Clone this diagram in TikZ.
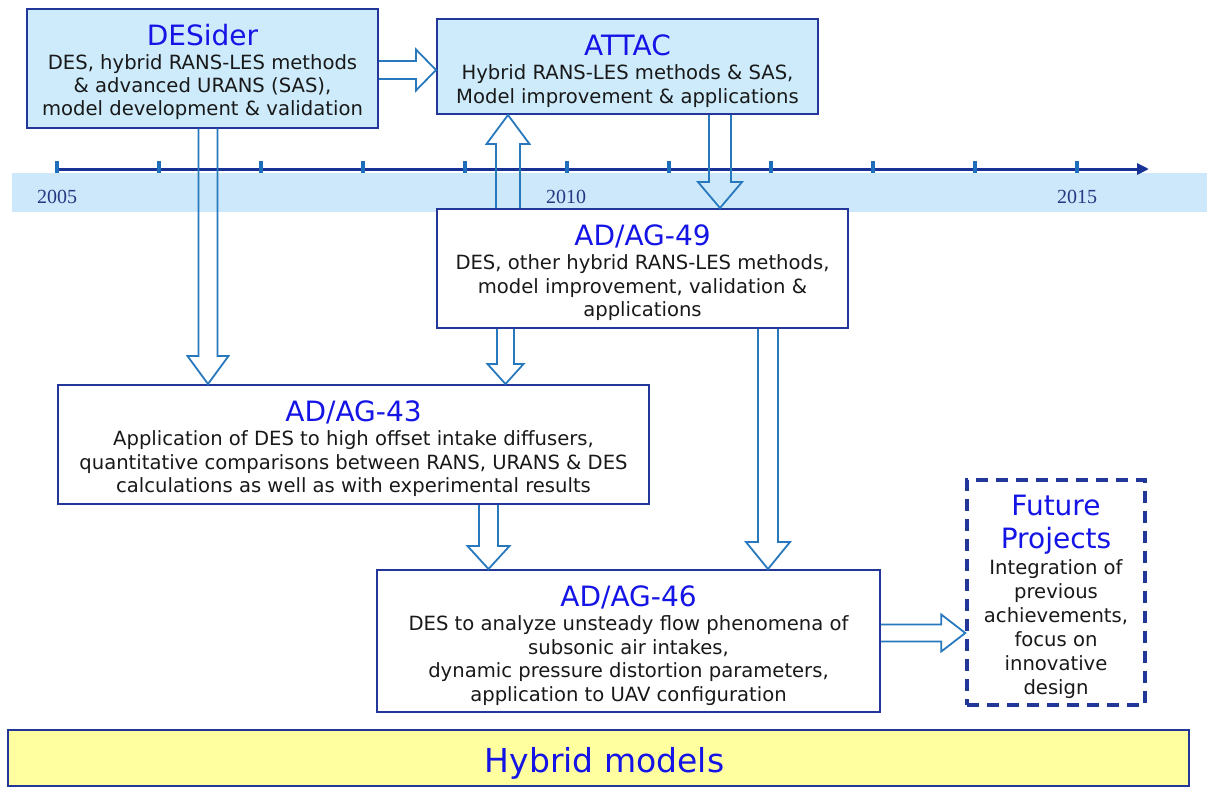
\documentclass[tikz,border=0pt]{standalone}
\usepackage{fontspec}
\setmainfont{DejaVu Sans}
\newfontfamily\bodyf{DejaVu Sans}
\newfontfamily\titlef{DejaVu Sans}
\newfontfamily\hybf{DejaVu Sans}
\newfontfamily\yearf{Liberation Serif}
\usetikzlibrary{arrows.meta,calc}
\definecolor{navy}{RGB}{35,55,155}
\definecolor{lightfill}{RGB}{205,235,251}
\definecolor{bandblue}{RGB}{204,232,250}
\definecolor{ttlblue}{RGB}{20,20,230}
\definecolor{bodytext}{RGB}{25,25,25}
\definecolor{arrowblue}{RGB}{40,120,190}
\definecolor{axisblue}{RGB}{25,50,150}
\definecolor{tickblue}{RGB}{30,110,190}
\definecolor{yearblue}{RGB}{40,55,130}
\definecolor{hybfill}{RGB}{255,255,160}
\newcommand\ttlplain[1]{{\titlef\fontsize{28}{30}\selectfont\color{ttlblue}#1}}
\newcommand\ttl[1]{\ttlplain{\rule{0pt}{30pt}#1}}
% vertical block arrows: #1 x, #2 from, #3 to, #4 half shaft, #5 half head, #6 head length
\newcommand\barrowD[6]{\draw[barrow] let \p1=(#2), \p2=(#3), \p3=(#1,0) in
  (\x3-#4,\y1) -- (\x3-#4,\y2+#6) -- (\x3-#5,\y2+#6) -- (\x3,\y2) -- (\x3+#5,\y2+#6) -- (\x3+#4,\y2+#6) -- (\x3+#4,\y1);}
\newcommand\barrowU[6]{\draw[barrow] let \p1=(#2), \p2=(#3), \p3=(#1,0) in
  (\x3-#4,\y1) -- (\x3-#4,\y2-#6) -- (\x3-#5,\y2-#6) -- (\x3,\y2) -- (\x3+#5,\y2-#6) -- (\x3+#4,\y2-#6) -- (\x3+#4,\y1);}
\newcommand\barrowR[6]{\draw[barrow] let \p1=(#2), \p2=(#3), \p3=(0,#1) in
  (\x1,\y3+#4) -- (\x2-#6,\y3+#4) -- (\x2-#6,\y3+#5) -- (\x2,\y3) -- (\x2-#6,\y3-#5) -- (\x2-#6,\y3-#4) -- (\x1,\y3-#4);}
\begin{document}
\begin{tikzpicture}[x=1pt,y=-1pt,
  pbox/.style={draw=navy, line width=2pt, inner sep=0pt, align=center,
    font=\bodyf\fontsize{19.6}{23.5}\selectfont, text=bodytext},
  lbbox/.style={pbox, fill=lightfill},
  wbox/.style={pbox, fill=white},
  dbox/.style={pbox, fill=white, line width=3.5pt, dash pattern=on 12pt off 8pt},
  hbox/.style={pbox, fill=hybfill},
  barrow/.style={draw=arrowblue, line width=1.8pt, line join=miter},
  axisline/.style={draw=axisblue, line width=3pt, -{Triangle[length=12pt,width=11pt]}},
  tickmark/.style={draw=tickblue, line width=4pt},
  year/.style={font=\yearf\fontsize{20}{24}\selectfont, text=yearblue, inner sep=0pt}]
\useasboundingbox (0,0) rectangle (1207,787);
% timeline
\fill[bandblue] (12,173) rectangle (1207,212);
\draw[axisline] (57,169) -- (1149,169);
\foreach \i in {0,...,10} \draw[tickmark] ({57+102*\i},161) -- ++(0,12);
\node[year] (y2005) at (57,197) {2005};
\node[year] (y2010) at (566,197) {2010};
\node[year] (y2015) at (1077,197) {2015};
% boxes
\node[lbbox, minimum width=351pt, minimum height=119pt] (desider) at (202.5,68)
  {\ttl{DESider}\\[0.5pt] DES, hybrid RANS-LES methods\\[-0.5pt] \& advanced URANS (SAS),\\[-0.5pt] model development \& validation};
\node[lbbox, minimum width=381pt, minimum height=95pt] (attac) at (627.5,66.5)
  {\ttl{ATTAC}\\[0.5pt] Hybrid RANS-LES methods \& SAS,\\ Model improvement \& applications};
\node[wbox, minimum width=411pt, minimum height=119pt] (ag49) at (642.5,268.5)
  {\ttl{AD/AG-49}\\[0.5pt] DES, other hybrid RANS-LES methods,\\ model improvement, validation \&\\ applications};
\node[wbox, minimum width=591pt, minimum height=119pt] (ag43) at (353.5,444.5)
  {\ttl{AD/AG-43}\\[0.5pt] Application of DES to high offset intake diffusers,\\ quantitative comparisons between RANS, URANS \& DES\\ calculations as well as with experimental results};
\node[wbox, minimum width=503pt, minimum height=142pt] (ag46) at (628.5,641)
  {\ttl{AD/AG-46}\\[0.5pt] DES to analyze unsteady flow phenomena of\\ subsonic air intakes,\\ dynamic pressure distortion parameters,\\ application to UAV configuration};
\node[dbox, minimum width=178pt, minimum height=225pt] (future) at (1056,592.5)
  {\ttl{Future}\\[9.5pt]\ttlplain{Projects}\\[2.5pt] Integration of\\[0.5pt] previous\\[0.5pt] achievements,\\[0.5pt] focus on\\[0.5pt] innovative\\[0.5pt] design};
\node[hbox, minimum width=1181pt, minimum height=56pt, text height=28pt, text depth=0pt,
  font=\hybf\fontsize{33}{36}\selectfont, text=ttlblue] (hyb) at (598.5,758) {\hspace*{12pt}Hybrid models};
% block arrows
\barrowR{70}{desider.east}{attac.west}{9}{20.5}{20}
\barrowD{208}{desider.south}{ag43.north}{9.5}{20.5}{28}
\barrowU{508}{ag49.north}{attac.south}{12}{21.5}{29}
\barrowD{720}{attac.south}{ag49.north}{11}{22}{26}
\barrowD{505.5}{ag49.south}{ag43.north}{8.5}{18}{20}
\barrowD{768}{ag49.south}{ag46.north}{10}{22}{27}
\barrowD{488.5}{ag43.south}{ag46.north}{9.5}{21}{23}
\barrowR{633}{ag46.east}{future.west}{8.5}{18.5}{24}
\end{tikzpicture}
\end{document}
